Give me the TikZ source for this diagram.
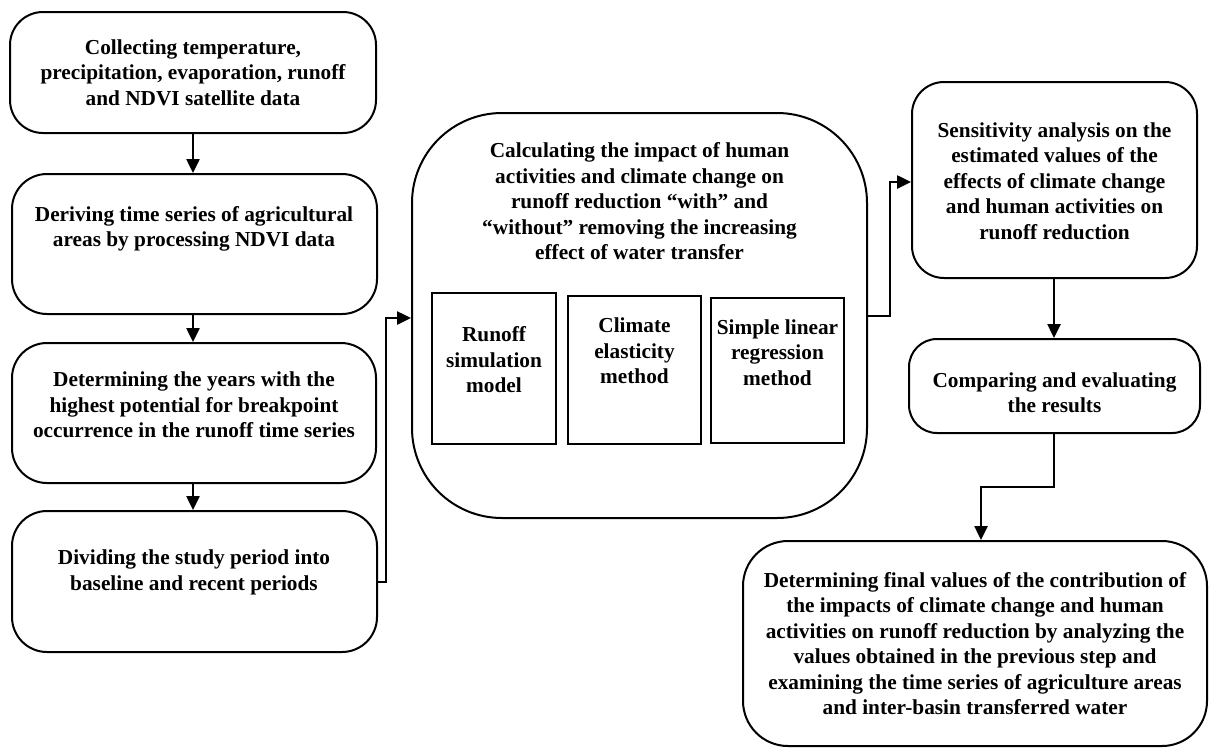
\documentclass[tikz,border=0pt]{standalone}
\usepackage{fontspec}
\setmainfont{Liberation Serif}
\usetikzlibrary{arrows.meta}
\begin{document}
\begin{tikzpicture}[x=1pt,y=-1pt,
  rbox/.style={draw=black, line width=2pt, inner sep=0pt, fill=white},
  sbox/.style={draw=black, line width=2.4pt, inner sep=0pt},
  txt/.style={align=center, inner sep=0pt, font=\fontsize{21.3}{25.5}\selectfont\bfseries},
  conn/.style={line width=2.5pt, -{Triangle[width=13pt,length=14pt]}},
  seg/.style={line width=2.5pt}
]
\useasboundingbox (0,0) rectangle (1209,747);
% left column
\node[rbox, rounded corners=33pt, minimum width=366pt, minimum height=121pt] (b1) at (193,72.5) {};
\node[txt] (t1) at (193,72.5) {Collecting temperature,\\precipitation, evaporation, runoff\\and NDVI satellite data};
\node[rbox, rounded corners=35pt, minimum width=365pt, minimum height=140pt] (b2) at (194.5,244) {};
\node[txt] (t2) at (194,229) {Deriving time series of agricultural\\areas by processing NDVI data};
\node[rbox, rounded corners=35pt, minimum width=364pt, minimum height=140pt] (b3) at (194,413) {};
\node[txt] (t3) at (194,405) {Determining the years with the\\highest potential for breakpoint\\occurrence in the runoff time series};
\node[rbox, rounded corners=35pt, minimum width=365pt, minimum height=141pt] (b4) at (194.5,581.5) {};
\node[txt] (t4) at (194,572.5) {Dividing the study period into\\baseline and recent periods};
% big box
\node[rbox, rounded corners=90pt, minimum width=455pt, minimum height=405pt] (big) at (639.5,315.5) {};
\node[txt] (tbig) at (639.5,201.5) {Calculating the impact of human\\activities and climate change on\\runoff reduction “with” and\\“without” removing the increasing\\effect of water transfer};
\node[sbox, minimum width=124pt, minimum height=151pt] (ma) at (494,368.5) {};
\node[txt] (tma) at (494,360) {Runoff\\simulation\\model};
\node[sbox, minimum width=133pt, minimum height=148pt] (mb) at (634.5,370) {};
\node[txt] (tmb) at (634.5,351) {Climate\\elasticity\\method};
\node[sbox, minimum width=133pt, minimum height=145pt] (mc) at (777.5,370.5) {};
\node[txt] (tmc) at (777.5,352.5) {Simple linear\\regression\\method};
% right column
\node[rbox, rounded corners=32pt, minimum width=285pt, minimum height=196pt] (s) at (1054.5,180) {};
\node[txt] (ts) at (1054.5,181) {Sensitivity analysis on the\\estimated values of the\\effects of climate change\\and human activities on\\runoff reduction};
\node[rbox, rounded corners=28pt, minimum width=291pt, minimum height=94pt] (c) at (1054.5,386) {};
\node[txt] (tc) at (1054.5,392.5) {Comparing and evaluating\\the results};
\node[rbox, rounded corners=45pt, minimum width=464pt, minimum height=205pt] (f) at (975,643.5) {};
\node[txt] (tf) at (975,643.5) {Determining final values of the contribution of\\the impacts of climate change and human\\activities on runoff reduction by analyzing the\\values obtained in the previous step and\\examining the time series of agriculture areas\\and inter-basin transferred water};
% connectors
\draw[conn] (b1.south -| 193,0) -- (b2.north -| 193,0);
\draw[conn] (b2.south -| 193,0) -- (b3.north -| 193,0);
\draw[conn] (b3.south -| 193,0) -- (b4.north -| 193,0);
\coordinate (k1) at (386,582);
\coordinate (k2) at (386,318);
\draw[conn] (b4.east |- k1) -- (k1) -- (k2) -- (big.west |- k2);
\coordinate (k3) at (890,316);
\coordinate (k4) at (890,182);
\draw[conn] (big.east |- k3) -- (k3) -- (k4) -- (s.west |- k4);
\draw[conn] (s.south -| 1054,0) -- (c.north -| 1054,0);
\coordinate (k5) at (1054,487);
\coordinate (k6) at (981,487);
\draw[conn] (c.south -| k5) -- (k5) -- (k6) -- (f.north -| k6);
\end{tikzpicture}
\end{document}
